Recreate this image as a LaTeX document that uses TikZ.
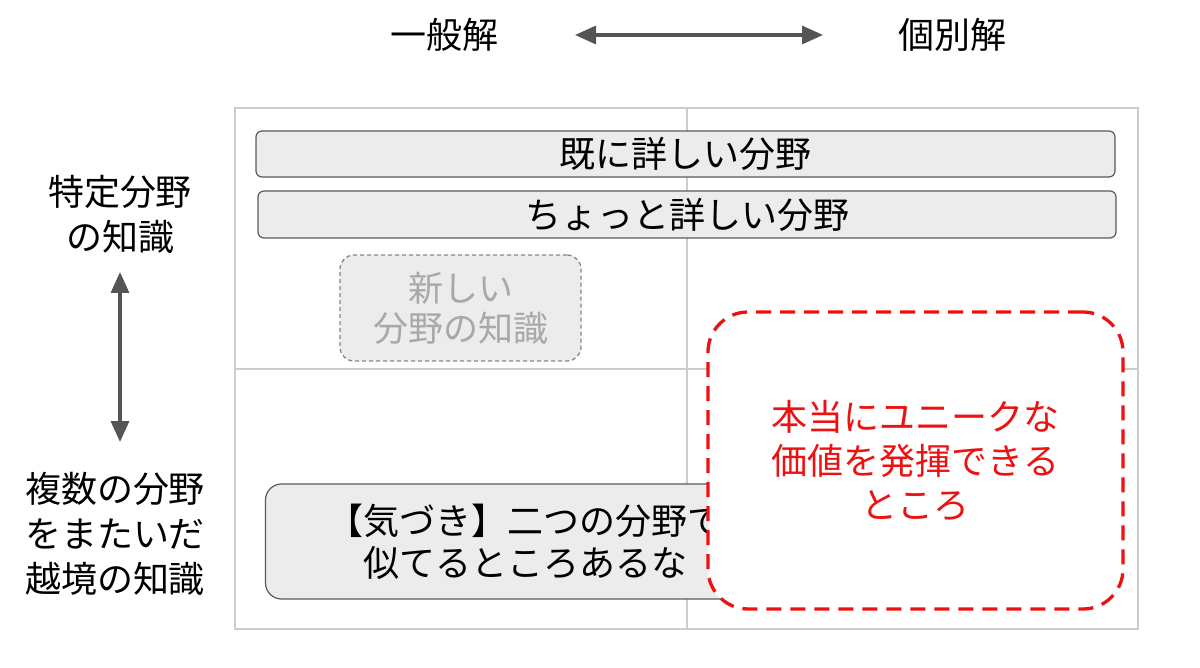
\documentclass[tikz,border=0pt]{standalone}
\usepackage{fontspec}
\setmainfont{Noto Sans CJK JP}
\usetikzlibrary{arrows.meta}
\definecolor{boxfill}{HTML}{ECECEC}
\definecolor{boxline}{HTML}{5A5A5A}
\definecolor{gridc}{HTML}{CCCCCC}
\definecolor{arrowc}{HTML}{555555}
\definecolor{fadec}{HTML}{A8A8A8}
\definecolor{redc}{HTML}{EE1111}
\tikzset{
  lbl/.style={font=\fontsize{36}{45}\selectfont, align=center, inner sep=0pt},
  bar/.style={draw=boxline, fill=boxfill, line width=1.2pt, rounded corners=6pt, inner sep=0pt, font=\fontsize{36}{44}\selectfont},
  fadebox/.style={draw=fadec!80!black, fill=boxfill, line width=1.3pt, dash pattern=on 4pt off 3pt, rounded corners=14pt, inner sep=0pt, align=center, text=fadec, font=\fontsize{35}{40}\selectfont},
  notebox/.style={draw=boxline, fill=boxfill, line width=1.2pt, rounded corners=16pt, inner sep=0pt, align=center, font=\fontsize{36}{42}\selectfont},
  redbox/.style={draw=redc, fill=white, line width=3.3pt, dash pattern=on 15pt off 9pt, rounded corners=40pt, inner sep=0pt, align=center, text=redc, font=\fontsize{36}{44}\selectfont},
  dblarrow/.style={draw=arrowc, line width=3.3pt, {Triangle[length=21pt,width=18pt]}-{Triangle[length=21pt,width=18pt]}},
}
\begin{document}
\begin{tikzpicture}[x=1pt,y=-1pt]
\useasboundingbox (0,0) rectangle (1200,668);
% grid
\draw[gridc, line width=1.4pt] (235,108) rectangle (1138,629);
\draw[gridc, line width=1.4pt] (687,108) -- (687,629);
\draw[gridc, line width=1.4pt] (235,369) -- (1138,369);
% top labels
\node[lbl] (gen) at (444,35) {一般解};
\node[lbl] (ind) at (952,35) {個別解};
\coordinate (hl) at (575,35);
\coordinate (hr) at (823,35);
\draw[dblarrow] (hl) -- (hr);
% left labels
\node[lbl] (spec) at (120,214) {特定分野\\の知識};
\node[lbl] (multi) at (115,534) {複数の分野\\をまたいだ\\越境の知識};
\coordinate (vt) at (120,272);
\coordinate (vb) at (120,442);
\draw[dblarrow] (vt) -- (vb);
% boxes
\node[bar, minimum width=859pt, minimum height=46pt] (b1) at (685.5,154) {既に詳しい分野};
\node[bar, minimum width=858pt, minimum height=47pt] (b2) at (687,214.5) {ちょっと詳しい分野};
\node[fadebox, minimum width=241pt, minimum height=106pt] (new) at (460.5,308) {新しい\\分野の知識};
\node[notebox, minimum width=519pt, minimum height=115pt] (note) at (525,541.5) {【気づき】二つの分野で\\似てるところあるな};
\node[redbox, minimum width=415pt, minimum height=297pt] (uniq) at (915.5,460.5) {本当にユニークな\\価値を発揮できる\\ところ};
\end{tikzpicture}
\end{document}
